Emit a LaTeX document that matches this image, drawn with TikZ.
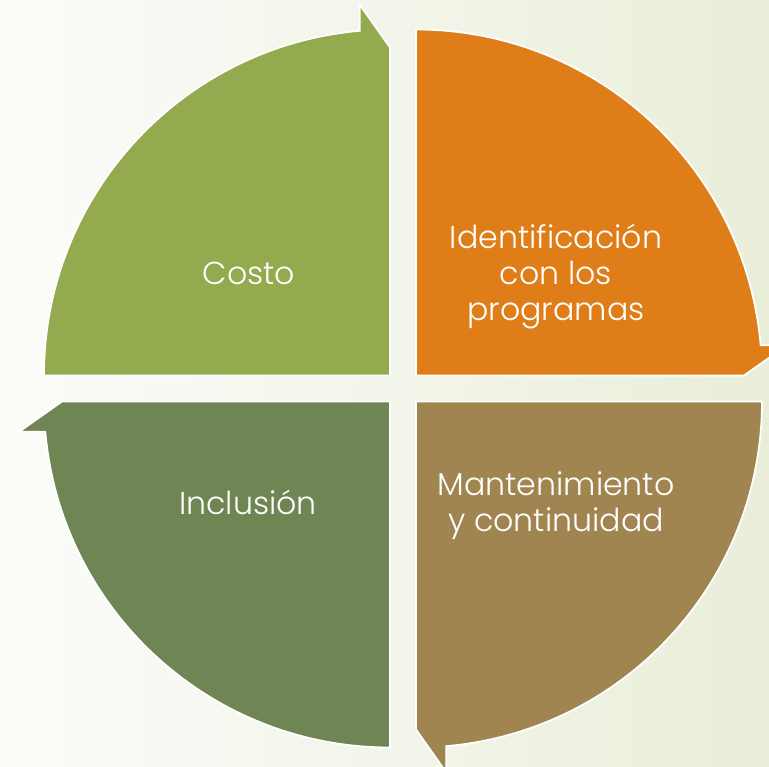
\documentclass[tikz,border=0pt]{standalone}
\usepackage{fontspec}
\setmainfont{Poppins Light}
\usepackage{tikz}
\usepackage{xcolor}
\usetikzlibrary{positioning, calc}

\definecolor{costo}{HTML}{94AA4E}
\definecolor{ident}{HTML}{DF7E19}
\definecolor{mant}{HTML}{A18551}
\definecolor{incl}{HTML}{6F8553}
\definecolor{bgleft}{HTML}{FCFCFA}
\definecolor{bgright}{HTML}{E9EED9}

\tikzset{
  segment/.style={draw=white, line width=0.5pt},
  segtext/.style={text=white, align=center, font=\fontsize{9}{10.1}\selectfont}
}

\begin{document}
\begin{tikzpicture}[x=0.01cm, y=0.01cm]
% background
\useasboundingbox (-403,-378.5) rectangle (366,388.5);
\clip (-403,-378.5) rectangle (366,388.5);
\shade[left color=bgleft, right color=bgright] (-403,-378.5) rectangle (366,388.5);

% four segments, each a quarter with an arrow at its end
\foreach \col/\dx/\dy/\rot in {costo/-13/13/0, ident/13/13/-90, mant/13/-13/-180, incl/-13/-13/-270}
  \fill[segment, fill=\col, shift={(\dx,\dy)}, rotate=\rot]
    (0,0) -- (180:346) arc[start angle=180, end angle=95, radius=346]
    -- ++(0,26) -- (0,328) -- cycle;

% labels
\node[segtext] (costo) at (-154,115) {Costo};
\node[segtext] (ident) at (153,112) {Identificación\\con los\\programas};
\node[segtext] (mant) at (153,-117) {Mantenimiento\\y continuidad};
\node[segtext] (incl) at (-155,-114) {Inclusión};
\end{tikzpicture}
\end{document}
